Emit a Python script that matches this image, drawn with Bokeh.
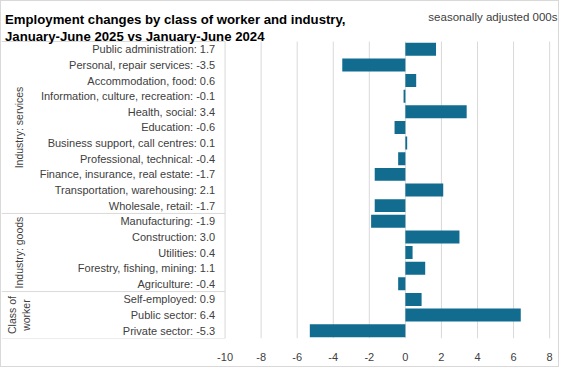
import numpy as np
from bokeh.plotting import figure
from bokeh.models import Range1d, FixedTicker, ColumnDataSource
from bokeh.core.properties import value
from bokeh.embed import file_html
from bokeh.resources import INLINE

# ---------------- data ----------------
categories = [
    "Public administration", "Personal, repair services", "Accommodation, food",
    "Information, culture, recreation", "Health, social", "Education",
    "Business support, call centres", "Professional, technical",
    "Finance, insurance, real estate", "Transportation, warehousing", "Wholesale, retail",
    "Manufacturing", "Construction", "Utilities", "Forestry, fishing, mining", "Agriculture",
    "Self-employed", "Public sector", "Private sector",
]
values = [1.7, -3.5, 0.6, -0.1, 3.4, -0.6, 0.1, -0.4, -1.7, 2.1, -1.7,
          -1.9, 3.0, 0.4, 1.1, -0.4,
          0.9, 6.4, -5.3]
groups = ["Industry: services", "Industry: goods", "Class of\nworker"]
group_sizes = [11, 5, 3]
xticks = [-10, -8, -6, -4, -2, 0, 2, 4, 6, 8]

title_1 = "Employment changes by class of worker and industry,"
title_2 = "January-June  2025 vs January-June  2024"
units = "seasonally adjusted 000s"

# ---------------- style / layout ----------------
FONT = "Liberation Sans"
TEXT = "#404040"
GRID = "#d9d9d9"
BAR = "#116c8f"

W, H = 559, 367
BOTTOM = 30                 # room for the x axis labels
TABLE_TOP = 40              # pixel row where the chart table starts
X_LEFT = -22.4              # left edge of the label table, in axis units
PX_UNIT = 18.03             # pixels per axis unit
X_RIGHT = X_LEFT + W / PX_UNIT
LABEL_X = -10.55            # right edge of category labels
GROUP_X = -21.43            # centre of group labels

n = len(categories)
frame_h = H - BOTTOM
px_row = (frame_h - TABLE_TOP) / n
Y_TOP = frame_h / px_row


def ypx(py):
    """pixel row from the top of the figure -> y axis units"""
    return (frame_h - py) / px_row


def xpx(px):
    """pixel column from the left of the figure -> x axis units"""
    return X_LEFT + px / PX_UNIT


ypos = n - np.arange(n) - 0.5
labels = [f"{c}: {v:.1f}" for c, v in zip(categories, values)]
src = ColumnDataSource(dict(y=ypos, v=values, lab=labels))

bounds = np.concatenate([[n], n - np.cumsum(group_sizes)])
group_mid = (bounds[:-1] + bounds[1:]) / 2

p = figure(width=W, height=H, output_backend="svg", toolbar_location=None,
           x_range=Range1d(X_LEFT, X_RIGHT), y_range=Range1d(0, Y_TOP),
           min_border_left=0, min_border_right=0, min_border_top=0, min_border_bottom=BOTTOM)
p.styles = {"border": "1px solid #d9d9d9"}
p.outline_line_color = None
p.yaxis.visible = False
p.grid.grid_line_color = None
p.xaxis.ticker = FixedTicker(ticks=xticks)
p.xaxis.major_label_overrides = {t: str(t) for t in xticks}
p.xaxis.axis_line_color = None
p.xaxis.major_tick_line_color = None
p.xaxis.minor_tick_line_color = None
p.xaxis.major_label_text_font = FONT
p.xaxis.major_label_text_font_size = "11px"
p.xaxis.major_label_text_color = TEXT
p.xaxis.major_label_standoff = 8

# vertical grid lines over the chart table only
p.segment(x0=xticks, x1=xticks, y0=0, y1=n, line_color=GRID, line_width=1)

# table lines on the left
p.segment(x0=X_LEFT, x1=xticks[0], y0=bounds, y1=bounds, line_color=GRID, line_width=1)

# bars
p.hbar(y="y", left=0, right="v", height=0.83, source=src, fill_color=BAR, line_color=None)

# category labels
p.text(x=LABEL_X, y="y", text="lab", source=src, text_align="right", text_baseline="middle",
       text_font=value(FONT), text_font_size="11px", text_color=TEXT)

# group labels
p.text(x=GROUP_X, y=group_mid, text=groups, angle=np.pi / 2, text_align="center",
       text_baseline="middle", text_font=value(FONT), text_font_size="10.5px",
       text_color=TEXT, text_line_height=1.15)

# titles
p.text(x=xpx(3.5), y=[ypx(17.5), ypx(34.5)], text=[title_1, title_2],
       text_align="left", text_baseline="alphabetic", text_font=value(FONT),
       text_font_style="bold", text_font_size="13.2px", text_color="#000000")
p.text(x=xpx(556), y=ypx(15.5), text=[units], text_align="right",
       text_baseline="alphabetic", text_font=value(FONT), text_font_size="11.5px",
       text_color=TEXT)

open("out.html", "w").write(file_html(p, INLINE))
